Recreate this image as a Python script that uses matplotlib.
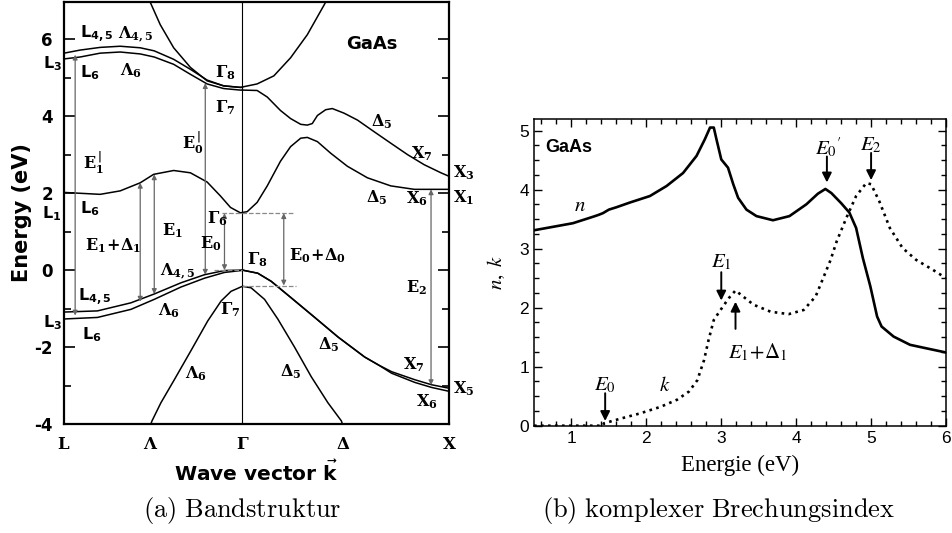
import matplotlib
matplotlib.use("Agg")
import matplotlib.pyplot as plt
from matplotlib.ticker import MultipleLocator

plt.rcParams['axes.unicode_minus'] = False

# ---------------- (a) band structure of GaAs ----------------
# k in units of 2pi/a : L = -0.864, Gamma = 0, X = 1
k_L, k_X = -0.864, 1.0
sym_pos = [-0.864, -0.447, 0.0, 0.49, 1.0]
sym_lab = [r'$\mathbf{L}$', r'$\mathbf{\Lambda}$', r'$\mathbf{\Gamma}$',
           r'$\mathbf{\Delta}$', r'$\mathbf{X}$']

# Gamma8 upper conduction parabola
par_k = [-0.447, -0.398, -0.333, -0.252, -0.171, -0.091, -0.01, 0.071, 0.152, 0.233, 0.314, 0.395, 0.403]
par_E = [6.97, 6.38, 5.78, 5.27, 4.92, 4.79, 4.75, 4.84, 5.05, 5.52, 6.12, 6.89, 6.97]

# upper conduction bands along Lambda (L4,5 / L6 -> Gamma)
lam_k = [-0.864, -0.786, -0.689, -0.592, -0.495, -0.427, -0.333, -0.252, -0.171, -0.091, -0.01, 0.0]
lam45_E = [5.64, 5.72, 5.79, 5.82, 5.78, 5.70, 5.48, 5.22, 4.94, 4.79, 4.75, 4.75]
lam6_E = [5.49, 5.54, 5.64, 5.67, 5.62, 5.54, 5.35, 5.09, 4.84, 4.72, 4.68, 4.68]

# Delta5 band Gamma7 -> X3
d5_k = [0.0, 0.071, 0.12, 0.184, 0.233, 0.282, 0.314, 0.338, 0.363, 0.403, 0.435, 0.492,
        0.557, 0.637, 0.718, 0.8, 0.88, 0.961, 1.0]
d5_E = [4.68, 4.67, 4.50, 4.15, 3.94, 3.79, 3.77, 3.81, 4.02, 4.17, 4.20, 4.08,
        3.90, 3.60, 3.30, 3.0, 2.74, 2.53, 2.44]

# lowest conduction band L6 -> Gamma6 -> X1
cb_k = [-0.864, -0.689, -0.592, -0.495, -0.43, -0.333, -0.252, -0.171, -0.107, -0.058, -0.01,
        0.023, 0.071, 0.12, 0.184, 0.233, 0.282, 0.314, 0.363, 0.427, 0.508, 0.605, 0.718,
        0.832, 1.0]
cb_E = [2.02, 1.97, 2.06, 2.27, 2.49, 2.59, 2.53, 2.29, 1.93, 1.63, 1.49,
        1.52, 1.76, 2.19, 2.83, 3.21, 3.43, 3.45, 3.34, 3.04, 2.70, 2.40, 2.19,
        2.10, 2.10]

# valence bands, Lambda side
vb_lk = [-0.864, -0.702, -0.54, -0.427, -0.298, -0.184, -0.087, -0.006, 0.0]
vb_l45 = [-1.09, -1.06, -0.85, -0.62, -0.33, -0.12, -0.01, 0.0, 0.0]
vb_l6 = [-1.27, -1.23, -1.02, -0.76, -0.44, -0.21, -0.06, -0.01, 0.0]
# valence bands, Delta side
vb_rk = [0.0, 0.074, 0.139, 0.236, 0.35, 0.463, 0.592, 0.66, 0.722, 0.835, 0.916, 1.0]
vb_r7 = [0.0, -0.08, -0.29, -0.72, -1.23, -1.74, -2.26, -2.47, -2.64, -2.85, -2.98, -3.07]
vb_r6 = [0.0, -0.08, -0.29, -0.72, -1.23, -1.74, -2.26, -2.47, -2.68, -2.92, -3.05, -3.15]

# split-off band Gamma7
so_k = [-0.45, -0.438, -0.395, -0.33, -0.249, -0.168, -0.103, -0.055, 0.0,
        0.042, 0.107, 0.171, 0.252, 0.333, 0.414, 0.479, 0.49]
so_E = [-4.1, -3.92, -3.45, -2.85, -2.09, -1.32, -0.80, -0.55, -0.42,
        -0.46, -0.76, -1.27, -2.0, -2.77, -3.45, -3.92, -4.1]

# transitions: k position, lower E, upper E
trans_k = [-0.81, -0.495, -0.427, -0.18, -0.087, 0.2, 0.913]
trans_lo = [-1.18, -0.82, -0.62, -0.12, 0.0, -0.40, -2.99]
trans_hi = [5.60, 2.27, 2.49, 4.86, 1.48, 1.48, 2.10]

# band labels: k (left edge), E, text
lab_k = [-0.786, -0.602, -0.966, -0.786, -0.592, -0.131, -0.131, 0.621, 0.816, 1.02, 1.02,
         0.597, 0.791, -0.97, -0.786, -0.772, -0.291, -0.17, -0.388, -0.204, -0.762, 0.223,
         0.024, -0.398, 0.791, -0.796, -0.408, -0.107, -0.966, -0.777, 0.364, -0.277, 0.184,
         0.777, 1.02, 0.84]
lab_E = [6.13, 6.13, 5.36, 5.13, 5.18, 5.13, 4.23, 3.85, 3.04, 2.53, 1.89,
         1.89, 1.85, 1.46, 1.59, 2.79, 3.30, 1.33, 1.03, 0.69, 0.64, 0.38,
         0.26, -0.03, -0.46, -0.72, -1.06, -1.02, -1.36, -1.67, -1.95, -2.69, -2.64,
         -2.46, -3.07, -3.41]
lab_txt = [r'$\mathbf{L_{4,5}}$', r'$\mathbf{\Lambda_{4,5}}$', r'$\mathbf{L_3}$', r'$\mathbf{L_6}$',
           r'$\mathbf{\Lambda_6}$', r'$\mathbf{\Gamma_8}$', r'$\mathbf{\Gamma_7}$', r'$\mathbf{\Delta_5}$',
           r'$\mathbf{X_7}$', r'$\mathbf{X_3}$', r'$\mathbf{X_1}$', r'$\mathbf{\Delta_5}$',
           r'$\mathbf{X_6}$', r'$\mathbf{L_1}$', r'$\mathbf{L_6}$', r'$\mathbf{E_1^{\,|}}$',
           r'$\mathbf{E_0^{\,|}}$', r'$\mathbf{\Gamma_6}$', r'$\mathbf{E_1}$', r'$\mathbf{E_0}$',
           r'$\mathbf{E_1\!+\!\Delta_1}$', r'$\mathbf{E_0\!+\!\Delta_0}$', r'$\mathbf{\Gamma_8}$',
           r'$\mathbf{\Lambda_{4,5}}$', r'$\mathbf{E_2}$', r'$\mathbf{L_{4,5}}$', r'$\mathbf{\Lambda_6}$',
           r'$\mathbf{\Gamma_7}$', r'$\mathbf{L_3}$', r'$\mathbf{L_6}$', r'$\mathbf{\Delta_5}$',
           r'$\mathbf{\Lambda_6}$', r'$\mathbf{\Delta_5}$', r'$\mathbf{X_7}$', r'$\mathbf{X_5}$',
           r'$\mathbf{X_6}$']

# ---------------- (b) n and k of GaAs ----------------
E_n = [0.5, 1.02, 1.29, 1.36, 1.42, 1.5, 1.6, 1.78, 2.047, 2.27, 2.49, 2.67, 2.78, 2.85, 2.90,
       2.936, 3.0, 3.09, 3.16, 3.225, 3.336, 3.47, 3.69, 3.91, 4.136, 4.29, 4.39, 4.47, 4.60,
       4.71, 4.80, 4.89, 4.99, 5.08, 5.14, 5.30, 5.52, 5.74, 6.0]
n_val = [3.31, 3.43, 3.54, 3.57, 3.60, 3.66, 3.70, 3.78, 3.89, 4.06, 4.28, 4.57, 4.85, 5.05, 5.05,
         4.85, 4.51, 4.37, 4.09, 3.86, 3.66, 3.55, 3.48, 3.55, 3.75, 3.93, 4.01, 3.94, 3.77,
         3.61, 3.35, 2.84, 2.36, 1.85, 1.68, 1.51, 1.37, 1.31, 1.24]
E_k = [0.5, 1.0, 1.42, 1.433, 1.656, 1.92, 2.19, 2.41, 2.57, 2.68, 2.77, 2.83, 2.90, 2.99, 3.10,
       3.19, 3.28, 3.43, 3.66, 3.90, 4.10, 4.26, 4.37, 4.46, 4.54, 4.67, 4.80, 4.936, 5.0,
       5.11, 5.25, 5.42, 5.60, 5.825, 6.0]
k_val = [0.0, 0.0, 0.0, 0.04, 0.12, 0.21, 0.32, 0.44, 0.58, 0.77, 1.11, 1.45, 1.79, 1.96, 2.16,
         2.29, 2.20, 2.05, 1.93, 1.89, 1.96, 2.19, 2.53, 2.81, 3.12, 3.52, 3.89, 4.11, 4.09,
         3.80, 3.35, 3.01, 2.81, 2.64, 2.50]

# critical point arrows: label, label pos, arrow tail, arrow head
cp_txt = [r'$E_0$', r'$E_1$', r'$E_1\!+\!\Delta_1$', r'$E_0{}^{\prime}$', r'$E_2$']
cp_lab = [(1.45, 0.69), (3.0, 2.77), (3.49, 1.24), (4.43, 4.70), (5.0, 4.75)]
cp_tail = [(1.45, 0.55), (3.0, 2.6), (3.19, 1.64), (4.41, 4.56), (5.0, 4.62)]
cp_head = [(1.45, 0.08), (3.0, 2.12), (3.19, 2.1), (4.41, 4.12), (5.0, 4.16)]

fig = plt.figure(figsize=(9.52, 5.33), dpi=100)

# ---- left panel ----
ax = fig.add_axes([64 / 952, 1 - 424 / 533, 385 / 952, 422 / 533])
lw = 1.1
for kk, ee in [(par_k, par_E), (lam_k, lam45_E), (lam_k, lam6_E), (d5_k, d5_E), (cb_k, cb_E),
               (vb_lk, vb_l45), (vb_lk, vb_l6), (vb_rk, vb_r7), (vb_rk, vb_r6), (so_k, so_E)]:
    ax.plot(kk, ee, color='k', lw=lw)
ax.axvline(0, color='k', lw=0.8)

for kx, lo, hi in zip(trans_k, trans_lo, trans_hi):
    ax.annotate('', xy=(kx, hi), xytext=(kx, lo),
                arrowprops=dict(arrowstyle='<|-|>', color='#666666', lw=0.9,
                                mutation_scale=7, shrinkA=0, shrinkB=0))

ax.plot([-0.1, 0.243], [1.49, 1.49], ls='--', color='#888888', lw=0.9)
ax.plot([-0.14, 0.0], [0.0, 0.0], ls='--', color='#888888', lw=0.9)
ax.plot([0.0, 0.257], [-0.42, -0.42], ls='--', color='#888888', lw=0.9)

for kx, ee, s in zip(lab_k, lab_E, lab_txt):
    serif = not s.startswith(r'$\mathbf{L')
    ax.text(kx, ee, s, fontsize=11.5, ha='left', va='center',
            math_fontfamily='dejavuserif' if serif else 'dejavusans')
ax.text(0.5, 5.87, 'GaAs', fontsize=13, fontweight='bold', ha='left', va='center')

ax.set_xlim(k_L, k_X)
ax.set_ylim(-4, 6.97)
ax.set_xticks(sym_pos)
ax.set_xticklabels(sym_lab, math_fontfamily='dejavuserif', fontsize=12)
ax.tick_params(axis='x', length=0, pad=8)
ax.yaxis.set_major_locator(MultipleLocator(2))
ax.yaxis.set_minor_locator(MultipleLocator(1))
ax.tick_params(axis='y', which='both', direction='in', left=True, right=True, width=1.2)
ax.tick_params(axis='y', which='major', length=8, labelsize=12, pad=8)
ax.tick_params(axis='y', which='minor', length=5)
for t in ax.get_yticklabels():
    t.set_fontweight('bold')
for sp in ax.spines.values():
    sp.set_linewidth(1.6)
ax.set_ylabel('Energy (eV)', fontsize=15, fontweight='bold', labelpad=2)
ax.set_xlabel(r'Wave vector $\mathbf{\vec{k}}$', fontsize=14.5, fontweight='bold', labelpad=5)

# ---- right panel ----
bx = fig.add_axes([534 / 952, 1 - 425.7 / 533, 412 / 952, 307 / 533])
bx.plot(E_n, n_val, color='k', lw=1.9)
bx.plot(E_k, k_val, color='k', lw=1.9, ls=':')
for s, lp, tp, hp in zip(cp_txt, cp_lab, cp_tail, cp_head):
    bx.text(lp[0], lp[1], s, fontsize=15, ha='center', va='center', math_fontfamily='stix')
    bx.annotate('', xy=hp, xytext=tp,
                arrowprops=dict(arrowstyle='-|>', color='k', lw=1.4, mutation_scale=14,
                                shrinkA=0, shrinkB=0))
bx.text(0.65, 4.72, 'GaAs', fontsize=13, fontweight='bold', family='Liberation Sans',
        ha='left', va='center')
bx.text(1.11, 3.74, r'$n$', fontsize=15, ha='center', va='center', math_fontfamily='stix')
bx.text(2.25, 0.69, r'$k$', fontsize=15, ha='center', va='center', math_fontfamily='stix')

bx.set_xlim(0.5, 6)
bx.set_ylim(0, 5.2)
bx.xaxis.set_major_locator(MultipleLocator(1))
bx.xaxis.set_minor_locator(MultipleLocator(0.2))
bx.yaxis.set_major_locator(MultipleLocator(1))
bx.yaxis.set_minor_locator(MultipleLocator(0.25))
bx.tick_params(which='both', direction='in', top=True, right=True, width=1.0,
               labelsize=12.5, labelfontfamily='Liberation Sans')
bx.tick_params(which='major', length=6)
bx.tick_params(which='minor', length=3.5)
for sp in bx.spines.values():
    sp.set_linewidth(1.1)
bx.set_xlabel('Energie (eV)', fontsize=16.5, family='Liberation Serif', labelpad=7)
bx.set_ylabel(r'$n,\ k$', fontsize=15, math_fontfamily='stix', labelpad=9)

# captions
fig.text(242 / 952, 1 - 511 / 533, r'$\mathrm{(a)\ Bandstruktur}$', fontsize=19,
         math_fontfamily='cm', ha='center', va='center')
fig.text(719 / 952, 1 - 511 / 533, r'$\mathrm{(b)\ komplexer\ Brechungsindex}$', fontsize=19,
         math_fontfamily='cm', ha='center', va='center')

fig.savefig('out.png', dpi=100)
